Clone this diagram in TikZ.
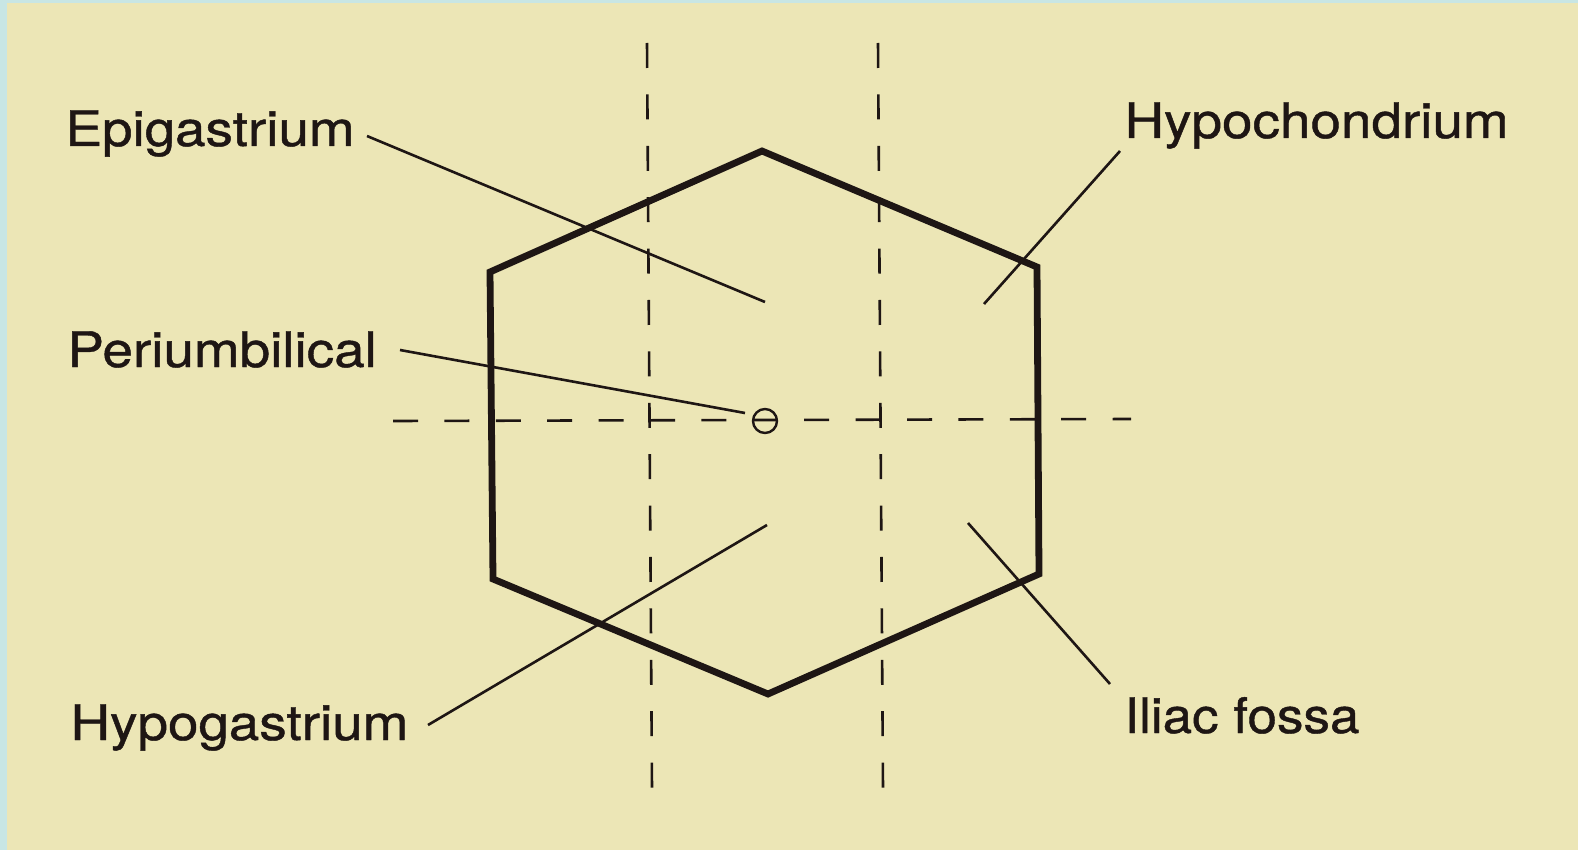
\documentclass[tikz,border=0pt]{standalone}
\usepackage{fontspec}
\setmainfont{TeX Gyre Heros}[FakeBold=0.8]
\definecolor{paper}{RGB}{236,230,182}
\definecolor{frame}{RGB}{200,230,228}
\definecolor{ink}{RGB}{30,22,20}
\begin{document}
\begin{tikzpicture}[x=0.5pt,y=-0.5pt,
  hexline/.style={draw=ink,line width=3.4pt,line join=miter},
  divline/.style={draw=ink,line width=1.3pt,dash pattern=on 12.5pt off 13.2pt},
  leader/.style={draw=ink,line width=1.3pt},
  lab/.style={font=\fontsize{24.5}{28}\selectfont,text=ink,anchor=base west,inner sep=0pt,xscale=1.12}]
\fill[frame] (0,0) rectangle (1578,850);
\fill[paper] (7,3) rectangle (1578,850);
\useasboundingbox (0,0) rectangle (1578,850);
% hexagon
\coordinate (t) at (762,151);
\coordinate (ur) at (1037,267);
\coordinate (lr) at (1039,574);
\coordinate (b) at (768,694);
\coordinate (ll) at (493,579);
\coordinate (ul) at (490,272);
\draw[hexline] (t) -- (ur) -- (lr) -- (b) -- (ll) -- (ul) -- cycle;
% dividing lines
\coordinate (v1t) at (647,43);  \coordinate (v1b) at (652,790);
\coordinate (v2t) at (878,43);  \coordinate (v2b) at (883,790);
\coordinate (hl) at (393,421);  \coordinate (hr) at (1131,419);
\draw[divline] (v1t) -- (v1b);
\draw[divline] (v2t) -- (v2b);
\draw[divline] (hl) -- (hr);
% umbilicus
\node[draw=ink,circle,line width=1.2pt,minimum size=12pt,inner sep=0pt] (umb) at (765,421) {};
% labels
\node[lab] (epi) at (65,146) {Epigastrium};
\node[lab] (hyc) at (1124,138) {Hypochondrium};
\node[lab] (per) at (67,367) {Periumbilical};
\node[lab] (hyg) at (70,740) {Hypogastrium};
\node[lab,xscale=0.965] (ili) at (1124,733) {Iliac fossa};
% leader ends
\coordinate (epiS) at (367,136); \coordinate (epiE) at (765,302);
\coordinate (perS) at (400,350); \coordinate (perE) at (745,413);
\coordinate (hycS) at (1120,151); \coordinate (hycE) at (984,304);
\coordinate (hygS) at (428,725); \coordinate (hygE) at (767,525);
\coordinate (iliS) at (1110,684); \coordinate (iliE) at (968,523);
\draw[leader] (epiS) -- (epiE);
\draw[leader] (perS) -- (perE);
\draw[leader] (hycS) -- (hycE);
\draw[leader] (hygS) -- (hygE);
\draw[leader] (iliS) -- (iliE);
\end{tikzpicture}
\end{document}
